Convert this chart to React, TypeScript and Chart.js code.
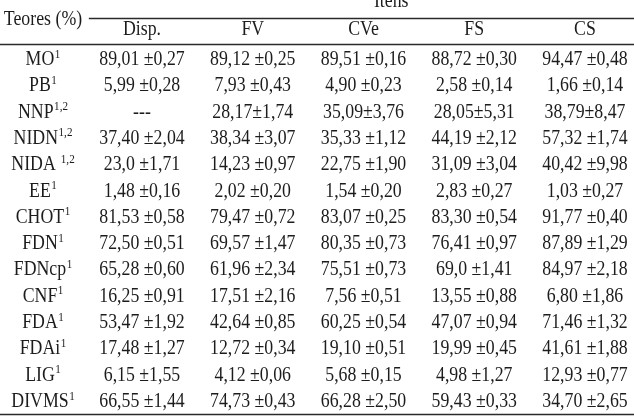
import React, { useEffect, useRef } from "react";
import { Chart, registerables } from "chart.js";

Chart.register(...registerables);

const rowLabels = ["MO", "PB", "NNP", "NIDN", "NIDA", "EE", "CHOT", "FDN", "FDNcp", "CNF", "FDA", "FDAi", "LIG", "DIVMS"];
const rowNotes = ["1", "1", "1,2", "1,2", "1,2", "1", "1", "1", "1", "1", "1", "1", "1", "1"];
const columns = ["Disp.", "FV", "CVe", "FS", "CS"];
const headerLeft = "Teores (%)";
const headerGroup = "Itens";

const disp = ["89,01 ±0,27", "5,99 ±0,28", "---", "37,40 ±2,04", "23,0 ±1,71", "1,48 ±0,16", "81,53 ±0,58", "72,50 ±0,51", "65,28 ±0,60", "16,25 ±0,91", "53,47 ±1,92", "17,48 ±1,27", "6,15 ±1,55", "66,55 ±1,44"];
const fv = ["89,12 ±0,25", "7,93 ±0,43", "28,17±1,74", "38,34 ±3,07", "14,23 ±0,97", "2,02 ±0,20", "79,47 ±0,72", "69,57 ±1,47", "61,96 ±2,34", "17,51 ±2,16", "42,64 ±0,85", "12,72 ±0,34", "4,12 ±0,06", "74,73 ±0,43"];
const cve = ["89,51 ±0,16", "4,90 ±0,23", "35,09±3,76", "35,33 ±1,12", "22,75 ±1,90", "1,54 ±0,20", "83,07 ±0,25", "80,35 ±0,73", "75,51 ±0,73", "7,56 ±0,51", "60,25 ±0,54", "19,10 ±0,51", "5,68 ±0,15", "66,28 ±2,50"];
const fs = ["88,72 ±0,30", "2,58 ±0,14", "28,05±5,31", "44,19 ±2,12", "31,09 ±3,04", "2,83 ±0,27", "83,30 ±0,54", "76,41 ±0,97", "69,0 ±1,41", "13,55 ±0,88", "47,07 ±0,94", "19,99 ±0,45", "4,98 ±1,27", "59,43 ±0,33"];
const cs = ["94,47 ±0,48", "1,66 ±0,14", "38,79±8,47", "57,32 ±1,74", "40,42 ±9,98", "1,03 ±0,27", "91,77 ±0,40", "87,89 ±1,29", "84,97 ±2,18", "6,80 ±1,86", "71,46 ±1,32", "41,61 ±1,88", "12,93 ±0,77", "34,70 ±2,65"];

const columnValues = [disp, fv, cve, fs, cs];

const FONT = '"Liberation Serif", "Times New Roman", serif';
const TEXT = "#1c1c1c";
const SX = 0.89;

const tablePlugin = {
  id: "tableText",
  afterDatasetsDraw(chart: any) {
    const ctx = chart.ctx;
    const xs = chart.scales.x;
    const ys = chart.scales.y;
    ctx.save();
    ctx.fillStyle = TEXT;
    ctx.textBaseline = "alphabetic";
    const main = `20px ${FONT}`;
    const sup = `12.5px ${FONT}`;

    const put = (text: string, x: number, y: number, align: string, font: string) => {
      ctx.save();
      ctx.font = font;
      ctx.textAlign = align;
      ctx.translate(x, y);
      ctx.scale(SX, 1);
      ctx.fillText(text, 0, 0);
      ctx.restore();
    };
    const width = (text: string, font: string) => {
      ctx.font = font;
      return ctx.measureText(text).width * SX;
    };

    // rules
    ctx.strokeStyle = "#2a2a2a";
    ctx.lineWidth = 1.3;
    const line = (x0: number, x1: number, yv: number) => {
      const y = Math.round(ys.getPixelForValue(yv)) + 0.5;
      ctx.beginPath();
      ctx.moveTo(x0, y);
      ctx.lineTo(x1, y);
      ctx.stroke();
    };
    line(xs.getPixelForValue(-0.48), chart.width, -1.787);
    line(0, chart.width, -0.798);
    line(0, chart.width, 13.27);

    // headers
    put(headerGroup, xs.getPixelForValue(2.25), ys.getPixelForValue(-2.2), "center", main);
    put(headerLeft, xs.getPixelForValue(-0.894), ys.getPixelForValue(-1.52), "center", main);
    columns.forEach((c, i) => {
      put(c, xs.getPixelForValue(i), ys.getPixelForValue(-1.14), "center", main);
    });

    // cells
    chart.data.datasets.forEach((ds: any, di: number) => {
      const meta = chart.getDatasetMeta(di);
      meta.data.forEach((el: any, ri: number) => {
        if (ds.kind === "label") {
          const label = rowLabels[ri];
          const note = rowNotes[ri];
          const w = width(label, main);
          const gap = label === "NIDA" ? 5 : 0.5;
          const sw = width(note, sup);
          const left = el.x - (w + gap + sw) / 2;
          put(label, left, el.y, "left", main);
          put(note, left + w + gap, el.y - 7.5, "left", sup);
        } else {
          put(ds.values[ri], el.x, el.y, "center", main);
        }
      });
    });
    ctx.restore();
  },
};

export default function App() {
  const ref = useRef<HTMLCanvasElement>(null);
  useEffect(() => {
    if (!ref.current) return;
    const datasets: any[] = [
      {
        kind: "label",
        label: headerLeft,
        data: rowLabels.map((_, i) => ({ x: -0.894, y: i })),
        pointRadius: 0,
        showLine: false,
      },
      ...columns.map((c, ci) => ({
        kind: "value",
        label: c,
        values: columnValues[ci],
        data: columnValues[ci].map((_, i) => ({ x: ci, y: i })),
        pointRadius: 0,
        showLine: false,
      })),
    ];
    const chart = new Chart(ref.current, {
      type: "scatter",
      data: { datasets },
      options: {
        animation: false,
        responsive: false,
        layout: { padding: 0 },
        events: [],
        plugins: { legend: { display: false }, tooltip: { enabled: false } },
        scales: {
          x: { type: "linear", display: false, min: -1.2822, max: 4.4424 },
          y: { type: "linear", display: false, reverse: true, min: -2.4706, max: 13.417 },
        },
      },
      plugins: [tablePlugin],
    } as any);
    return () => chart.destroy();
  }, []);
  return (
    <div style={{ position: "fixed", left: 0, top: 0, width: 634, height: 418, background: "#fff" }}>
      <canvas ref={ref} width={634} height={418} style={{ display: "block" }} />
    </div>
  );
}
